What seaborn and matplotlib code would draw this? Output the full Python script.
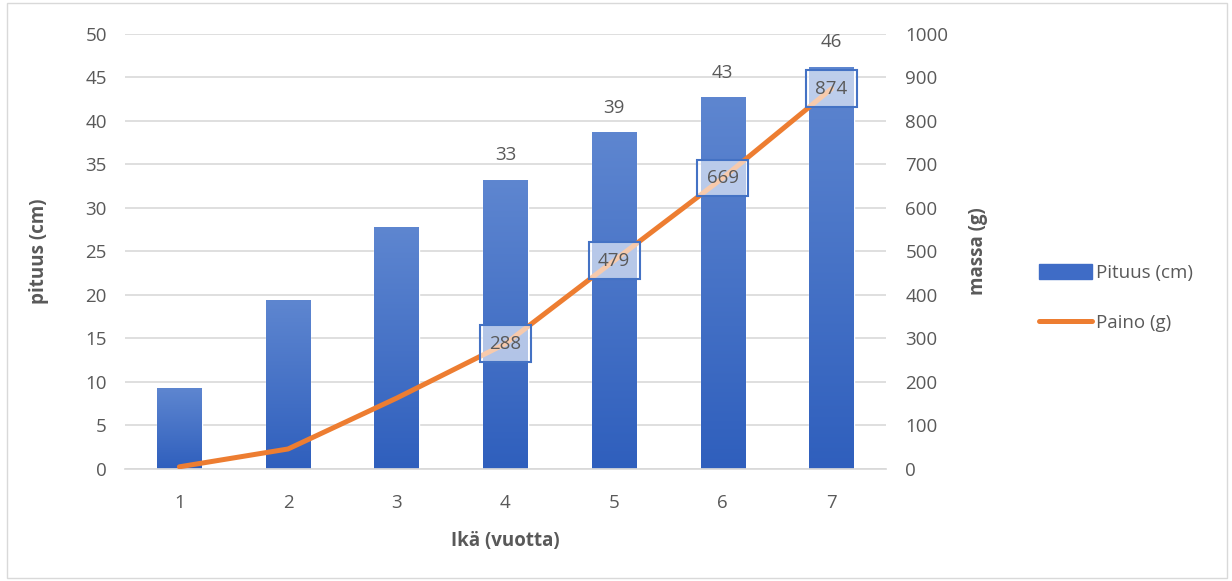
import numpy as np
import pandas as pd
import matplotlib
matplotlib.use('Agg')
import matplotlib.pyplot as plt
import seaborn as sns
from matplotlib.colors import LinearSegmentedColormap
from matplotlib.lines import Line2D
from matplotlib.patches import Patch

# data
ages = [1, 2, 3, 4, 5, 6, 7]
pituus = [9.3, 19.4, 27.8, 33.2, 38.7, 42.7, 46.2]
paino = [5, 46, 163, 288, 479, 669, 874]
pituus_labels = ['', '', '', '33', '39', '43', '46']
paino_labels = ['', '', '', '288', '479', '669', '874']

df = pd.DataFrame({'age': [str(a) for a in ages], 'pituus': pituus, 'paino': paino})

sns.set_theme(style='white')
plt.rcParams['font.family'] = ['Open Sans', 'DejaVu Sans']
TXT = '#595959'
BLUE = '#4472C4'
ORANGE = '#ED7D31'
FS = 13.5

fig = plt.figure(figsize=(12.32, 5.81), dpi=100)
ax = fig.add_axes([0.1015, 0.1928, 0.6175, 0.7487])

sns.barplot(data=df, x='age', y='pituus', ax=ax, color=BLUE, width=0.41,
            saturation=1, zorder=2)

# vertical gradient inside each bar
grad = LinearSegmentedColormap.from_list('g', ['#2F5FBD', '#5E86D0'])
gimg = np.linspace(0, 1, 256).reshape(-1, 1)
for p in ax.patches:
    x0, y0 = p.get_x(), p.get_y()
    w, h = p.get_width(), p.get_height()
    im = ax.imshow(gimg, cmap=grad, origin='lower', aspect='auto',
                   extent=[x0, x0 + w, y0, y0 + h], zorder=2.5)
    im.set_clip_path(p)

ax.set_xlim(-0.5, 6.5)
ax.set_ylim(0, 50)
ax.set_yticks(np.arange(0, 51, 5))
ax.yaxis.grid(True, color='#D9D9D9', linewidth=1.2, zorder=0)
ax.set_axisbelow(True)
for s in ax.spines.values():
    s.set_visible(False)
ax.spines['bottom'].set_visible(True)
ax.spines['bottom'].set_color('#D9D9D9')
ax.tick_params(axis='y', colors=TXT, labelsize=FS, length=0, pad=13)
ax.tick_params(axis='x', colors=TXT, labelsize=FS, length=0, pad=18)
ax.set_xlabel('Ikä (vuotta)', color=TXT, fontsize=FS, fontweight='bold', labelpad=14)
ax.set_ylabel('pituus (cm)', color=TXT, fontsize=FS, fontweight='bold', labelpad=26)

for i, (v, lab) in enumerate(zip(pituus, pituus_labels)):
    if lab:
        ax.text(i, v + 1.8, lab, ha='center', va='bottom', color=TXT, fontsize=FS)

ax2 = ax.twinx()
sns.lineplot(x=np.arange(len(ages)), y=paino, ax=ax2, color=ORANGE,
             linewidth=3.6, solid_capstyle='round', zorder=3)
ax2.set_ylim(0, 1000)
ax2.set_yticks(np.arange(0, 1001, 100))
for s in ax2.spines.values():
    s.set_visible(False)
ax2.tick_params(axis='y', colors=TXT, labelsize=FS, length=0, pad=14)
ax2.set_ylabel('massa (g)', color=TXT, fontsize=FS, fontweight='bold', labelpad=14)

for i, (v, lab) in enumerate(zip(paino, paino_labels)):
    if lab:
        ax2.text(i, v, lab, ha='center', va='center', color=TXT, fontsize=FS,
                 bbox=dict(boxstyle='square,pad=0.5', fc=(1, 1, 1, 0.6),
                           ec='#4472C4', lw=1.5), zorder=5)

handles = [Patch(color='#3F6CC6', label='Pituus (cm)'),
           Line2D([0], [0], color=ORANGE, lw=3.6, solid_capstyle='round', label='Paino (g)')]
fig.legend(handles=handles, loc='center left', bbox_to_anchor=(0.83, 0.487),
           frameon=False, fontsize=FS, labelcolor=TXT, handlelength=2.8,
           handleheight=0.9, handletextpad=0.2, labelspacing=1.7)

fig.patches.append(plt.Rectangle((0.006, 0.005), 0.99, 0.99, transform=fig.transFigure,
                                 fill=False, ec='#D9D9D9', lw=1))

fig.savefig('out.png', dpi=100)
